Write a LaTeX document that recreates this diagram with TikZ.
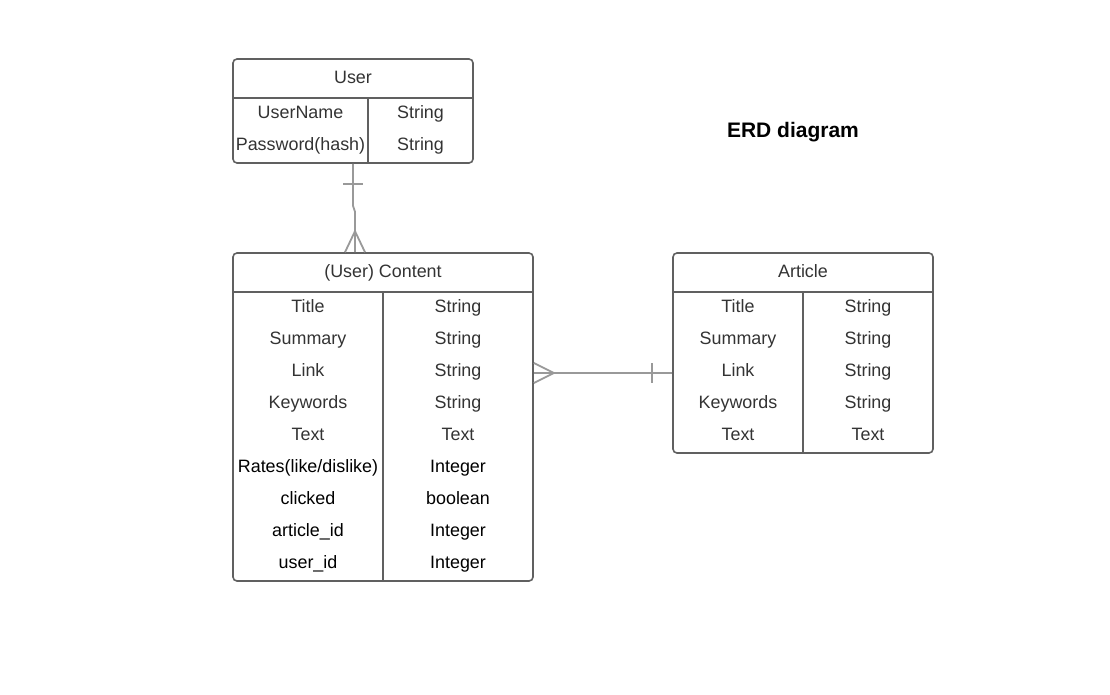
\documentclass[tikz,border=0pt]{standalone}
\usepackage{fontspec}
\setmainfont{Liberation Sans}
\usetikzlibrary{positioning}
\definecolor{boxgray}{HTML}{606060}
\definecolor{linkgray}{HTML}{999999}
\definecolor{txtgray}{HTML}{333333}

\begin{document}
\begin{tikzpicture}[
    x=1pt, y=-1pt,
    entity/.style={rectangle, draw=boxgray, line width=1.6pt, rounded corners=4pt, inner sep=0pt},
    rule/.style={draw=boxgray, line width=1.6pt},
    cell/.style={font=\fontsize{17.9}{20}\selectfont, text=txtgray, inner sep=0pt, text height=12.8pt, text depth=0pt},
    link/.style={draw=linkgray, line width=1.8pt}
]
    \useasboundingbox (0,0) rectangle (1110,694);

    % Title
    \node[font=\bfseries\fontsize{21}{24}\selectfont, inner sep=0pt, text height=15pt, text depth=0pt] (title) at (793,130) {ERD diagram};

    % User
    \node[entity, minimum width=240pt, minimum height=104pt] (user) at (353,111) {};
    \node[cell] (user-head) at (353,77) {User};
    \draw[rule] ([yshift=-40pt]user.north west) -- ([yshift=-40pt]user.north east);
    \draw[rule] (368,99) -- (user.south -| 368,0);
    \foreach \name/\type [count=\i] in {UserName/String, Password(hash)/String} {
        \node[cell] (user-n\i) at (300.5,80+32*\i) {\name};
        \node[cell] (user-t\i) at (420.5,80+32*\i) {\type};
    }

    % (User) Content
    \node[entity, minimum width=300pt, minimum height=328pt] (content) at (383,417) {};
    \node[cell] (content-head) at (383,271) {(User) Content};
    \draw[rule] ([yshift=-40pt]content.north west) -- ([yshift=-40pt]content.north east);
    \draw[rule] ([yshift=-40pt]content.north) -- (content.south);
    \foreach \name/\type/\col [count=\i] in {Title/String/txtgray, Summary/String/txtgray,
        Link/String/txtgray, Keywords/String/txtgray, Text/Text/txtgray,
        {Rates(like/dislike)}/Integer/black, clicked/boolean/black,
        article\_id/Integer/black, user\_id/Integer/black} {
        \node[cell, text=\col] (content-n\i) at (308,274+32*\i) {\name};
        \node[cell, text=\col] (content-t\i) at (458,274+32*\i) {\type};
    }

    % Article
    \node[entity, minimum width=260pt, minimum height=200pt] (article) at (803,353) {};
    \node[cell] (article-head) at (803,271) {Article};
    \draw[rule] ([yshift=-40pt]article.north west) -- ([yshift=-40pt]article.north east);
    \draw[rule] ([yshift=-40pt]article.north) -- (article.south);
    \foreach \name/\type [count=\i] in {Title/String, Summary/String, Link/String,
        Keywords/String, Text/Text} {
        \node[cell] (article-n\i) at (738,274+32*\i) {\name};
        \node[cell] (article-t\i) at (868,274+32*\i) {\type};
    }

    % User -> Content (one to many)
    \draw[link] (user.south) -- ++(0,42) -- ++(2,6) -- ([xshift=-28pt]content.north);
    \draw[link] ([shift={(-10,20)}]user.south) -- ++(20,0);
    \draw[link] ([xshift=-38pt]content.north) -- ++(10,-21) -- ++(10,21);

    % Content -> Article (many to one)
    \coordinate (ca-left) at ([yshift=44pt]content.east);
    \coordinate (ca-right) at ([yshift=-20pt]article.west);
    \draw[link] (ca-left) -- (ca-right);
    \draw[link] ([yshift=10pt]ca-left) -- ++(20,10) -- ++(-20,10);
    \draw[link] ([shift={(-20,-10)}]ca-right) -- ++(0,20);

\end{tikzpicture}
\end{document}
